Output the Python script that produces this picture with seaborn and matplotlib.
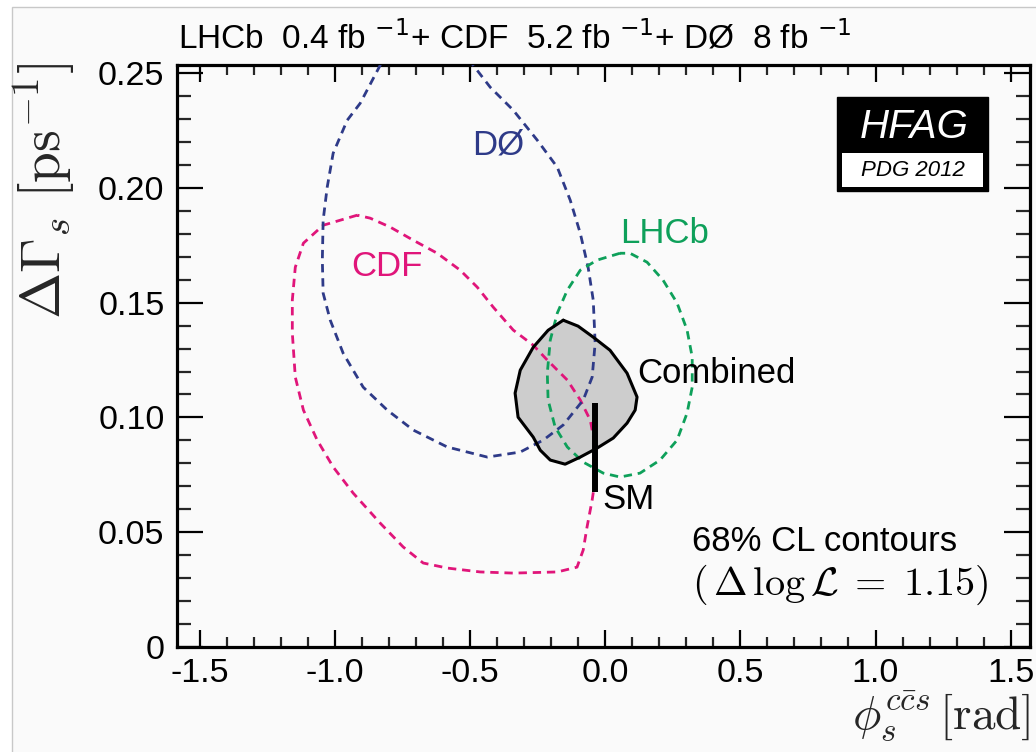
import matplotlib
matplotlib.use("Agg")
import matplotlib.pyplot as plt
import seaborn as sns
import pandas as pd
from matplotlib.patches import Rectangle
from matplotlib.ticker import MultipleLocator, FixedLocator

# ---- data ----
d0_phi = [-0.776, -0.832, -0.906, -0.954, -1.006, -1.028, -1.043, -1.046, -1.043, -1.017,
          -0.969, -0.895, -0.806, -0.710, -0.584, -0.436, -0.314, -0.229, -0.155, -0.081,
          -0.048, -0.037, -0.044, -0.063, -0.092, -0.129, -0.177, -0.251, -0.340, -0.425,
          -0.488, -0.555]
d0_dg = [0.2644, 0.2536, 0.2370, 0.2296, 0.2152, 0.2004, 0.1860, 0.1686, 0.1542, 0.1425,
         0.1280, 0.1132, 0.1032, 0.0945, 0.0871, 0.0827, 0.0849, 0.0901, 0.0967, 0.1076,
         0.1176, 0.1324, 0.1511, 0.1655, 0.1803, 0.1947, 0.2091, 0.2209, 0.2340, 0.2440,
         0.2536, 0.2644]

cdf_phi = [-0.917, -1.043, -1.116, -1.146, -1.157, -1.157, -1.146, -1.116, -1.065, -1.006,
           -0.932, -0.832, -0.747, -0.673, -0.584, -0.462, -0.340, -0.177, -0.104, -0.081,
           -0.067, -0.048, -0.037, -0.033, -0.041, -0.055, -0.092, -0.140, -0.214, -0.266,
           -0.340, -0.414, -0.473, -0.536, -0.621, -0.710, -0.795, -0.869, -0.917]
cdf_dg = [0.1882, 0.1838, 0.1760, 0.1655, 0.1512, 0.1368, 0.1176, 0.1032, 0.0901, 0.0784,
          0.0670, 0.0539, 0.0435, 0.0365, 0.0343, 0.0326, 0.0321, 0.0326, 0.0347, 0.0422,
          0.0522, 0.0640, 0.0727, 0.0814, 0.0901, 0.0988, 0.1076, 0.1163, 0.1250, 0.1315,
          0.1381, 0.1481, 0.1568, 0.1642, 0.1716, 0.1773, 0.1830, 0.1869, 0.1882]

lhcb_phi = [0.055, -0.030, -0.092, -0.140, -0.177, -0.203, -0.214, -0.211, -0.185, -0.140,
            -0.081, -0.007, 0.055, 0.129, 0.203, 0.266, 0.303, 0.322, 0.322, 0.303,
            0.266, 0.214, 0.155, 0.092, 0.055]
lhcb_dg = [0.1716, 0.1686, 0.1642, 0.1555, 0.1455, 0.1337, 0.1193, 0.1076, 0.0958, 0.0871,
           0.0805, 0.0757, 0.0740, 0.0757, 0.0814, 0.0901, 0.1019, 0.1132, 0.1263, 0.1381,
           0.1499, 0.1599, 0.1677, 0.1716, 0.1716]

comb_phi = [-0.155, -0.100, -0.044, 0.018, 0.081, 0.118, 0.111, 0.081, 0.030, -0.030,
            -0.092, -0.148, -0.203, -0.240, -0.266, -0.322, -0.333, -0.314, -0.266, -0.211,
            -0.155]
comb_dg = [0.1424, 0.1398, 0.1350, 0.1293, 0.1193, 0.1089, 0.1032, 0.0975, 0.0910, 0.0866,
           0.0827, 0.0796, 0.0814, 0.0857, 0.0914, 0.1001, 0.1106, 0.1206, 0.1306, 0.1380,
           0.1424]

sm_phi = [-0.036, -0.036]
sm_dg = [0.0675, 0.1065]

x_ticks = [-1.5, -1.0, -0.5, 0.0, 0.5, 1.0, 1.5]
x_ticklabels = ["-1.5", "-1.0", "-0.5", "0.0", "0.5", "1.0", "1.5"]
y_ticks = [0, 0.05, 0.10, 0.15, 0.20, 0.25]
y_ticklabels = ["0", "0.05", "0.10", "0.15", "0.20", "0.25"]

# ---- style ----
sns.set_theme(style="ticks")
plt.rcParams["font.family"] = ["Liberation Sans", "DejaVu Sans"]
plt.rcParams["mathtext.fontset"] = "cm"

C_D0 = "#2e3a88"
C_CDF = "#e0157a"
C_LHCB = "#0ea05a"

W, H = 1036, 752
fig = plt.figure(figsize=(W / 100, H / 100), dpi=100, facecolor="white")
fig.patches.append(Rectangle((12 / W, -0.05), 1.1, 1 - 7 / H + 0.05, transform=fig.transFigure,
                             facecolor="#fafafa", edgecolor="#c8c8c8", lw=1.0, zorder=-10))

ax = fig.add_axes([177 / W, 1 - 646.7 / H, (1030 - 177) / W, (646.7 - 65) / H])
ax.set_facecolor("#fafafa")

dash = (0, (3.0, 2.1))
ax.fill(comb_phi, comb_dg, facecolor="#cdcdcd", edgecolor="none", zorder=1)

df_d0 = pd.DataFrame({"phi": d0_phi, "dg": d0_dg})
df_cdf = pd.DataFrame({"phi": cdf_phi, "dg": cdf_dg})
df_lhcb = pd.DataFrame({"phi": lhcb_phi, "dg": lhcb_dg})
df_comb = pd.DataFrame({"phi": comb_phi, "dg": comb_dg})

for df, col in [(df_cdf, C_CDF), (df_d0, C_D0), (df_lhcb, C_LHCB)]:
    sns.lineplot(data=df, x="phi", y="dg", sort=False, estimator=None, ax=ax,
                 color=col, lw=2.0, linestyle=dash, zorder=3)
sns.lineplot(data=df_comb, x="phi", y="dg", sort=False, estimator=None, ax=ax,
             color="black", lw=2.2, zorder=4)
ax.plot(sm_phi, sm_dg, color="black", lw=4.3, solid_capstyle="butt", zorder=5)

ax.set_xlim(-1.5835, 1.5713)
ax.set_ylim(0, 0.2537)
ax.set_xlabel("")
ax.set_ylabel("")

ax.xaxis.set_major_locator(FixedLocator(x_ticks))
ax.set_xticklabels(x_ticklabels)
ax.yaxis.set_major_locator(FixedLocator(y_ticks))
ax.set_yticklabels(y_ticklabels)
ax.xaxis.set_minor_locator(MultipleLocator(0.1))
ax.yaxis.set_minor_locator(MultipleLocator(0.01))

for s in ax.spines.values():
    s.set_visible(True)
    s.set_linewidth(2.3)
    s.set_color("black")

ax.tick_params(axis="x", which="major", direction="in", length=12.5, width=1.6,
               top=True, bottom=True, labelsize=24.5, pad=8, colors="black")
ax.tick_params(axis="x", which="minor", direction="in", length=7, width=1.6,
               top=True, bottom=True)
ax.tick_params(axis="y", which="major", direction="in", length=18.5, width=1.6,
               left=True, right=True, labelsize=24.5, pad=9, colors="black")
ax.tick_params(axis="y", which="minor", direction="in", length=10, width=1.6,
               left=True, right=True)

# labels in plot
ax.text(-0.397, 0.219, "DØ", color=C_D0, fontsize=25, ha="center", va="center")
ax.text(-0.806, 0.166, "CDF", color=C_CDF, fontsize=25, ha="center", va="center")
ax.text(0.22, 0.180, "LHCb", color=C_LHCB, fontsize=25, ha="center", va="center")
ax.text(0.118, 0.1192, "Combined", color="black", fontsize=25, ha="left", va="center")
ax.text(-0.01, 0.064, "SM", color="black", fontsize=25, ha="left", va="center")
ax.text(0.32, 0.0460, "68% CL contours", color="black", fontsize=25, ha="left", va="center")
ax.text(0.32, 0.0270, r"$(\,\Delta\,\log\mathcal{L}\;=\;1.15)$", color="black", fontsize=29,
        ha="left", va="center")

# HFAG logo
ax.add_patch(Rectangle((837 / W, 1 - 191 / H), (988 - 837) / W, (191 - 97) / H,
                       transform=fig.transFigure, facecolor="black", edgecolor="black",
                       zorder=6, clip_on=False))
ax.add_patch(Rectangle((842 / W, 1 - 187 / H), (983 - 842) / W, (187 - 153) / H,
                       transform=fig.transFigure, facecolor="white", edgecolor="none",
                       zorder=7, clip_on=False))
fig.text(914.5 / W, 1 - 127 / H, "HFAG", color="white", fontsize=29, style="italic",
         ha="center", va="center", zorder=8)
fig.text(912.5 / W, 1 - 171 / H, "PDG 2012", color="black", fontsize=16, style="italic",
         ha="center", va="center", zorder=8)

# title
t = fig.text(178 / W, 1 - 38 / H,
             r"LHCb  0.4 fb $^{-1}$+ CDF  5.2 fb $^{-1}$+ DØ  8 fb $^{-1}$",
             fontsize=24, ha="left", va="center", color="black")
t.set_math_fontfamily("dejavusans")

# axis titles
fig.text(45 / W, 1 - 63 / H, r"$\Delta\Gamma_{s}\ [\mathrm{ps}^{-1}]$", rotation=90,
         fontsize=40, ha="center", va="top")
fig.text(1030 / W, 1 - 716 / H, r"$\phi_{s}^{c\bar{c}s}\,[\mathrm{rad}]$",
         fontsize=34, ha="right", va="center")

fig.savefig("out.png", dpi=100, facecolor=fig.get_facecolor())
